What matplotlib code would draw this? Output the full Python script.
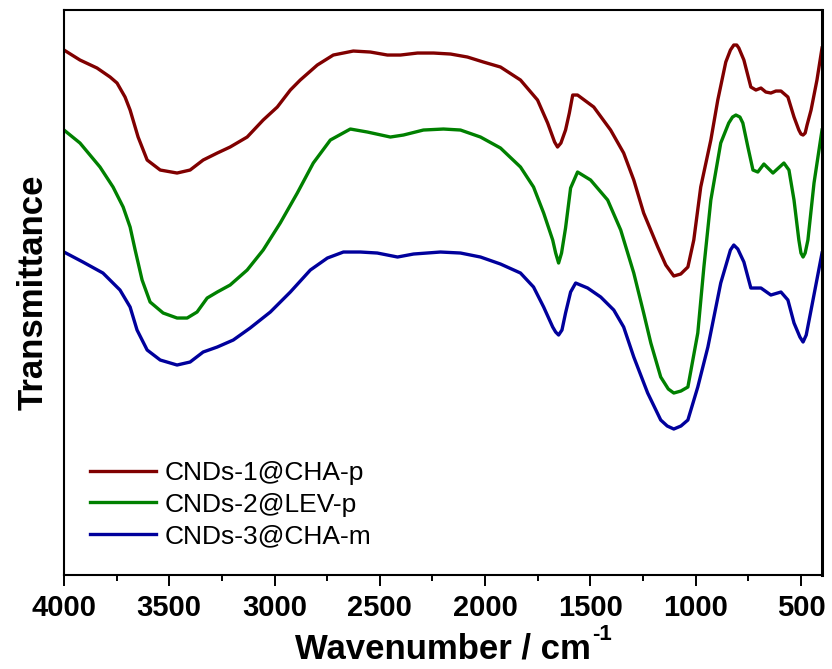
import matplotlib.pyplot as plt
from matplotlib.ticker import MultipleLocator

plt.rcParams['font.family'] = ['Liberation Sans', 'DejaVu Sans']

# wavenumber (cm-1) and transmittance (a.u.)
wn_1 = [4000, 3924, 3843, 3781, 3748, 3710, 3686, 3648, 3605, 3543, 3463, 3401, 3339, 3272,
        3211, 3130, 3054, 2987, 2925, 2878, 2797, 2721, 2626, 2545, 2464, 2402, 2321, 2245,
        2164, 2084, 2008, 1927, 1832, 1751, 1703, 1670, 1656, 1640, 1618, 1600, 1584, 1561,
        1484, 1404, 1342, 1294, 1247, 1180, 1142, 1104, 1071, 1037, 1009, 976, 928, 895, 857,
        835, 819, 805, 795, 771, 738, 714, 690, 667, 643, 619, 595, 562, 533, 510, 500, 490,
        480, 471, 452, 424, 400]
t_1 = [525, 515, 507, 498, 492, 478, 465, 438, 415, 405, 402, 405, 415, 422,
       428, 438, 455, 468, 485, 495, 510, 520, 524, 523, 520, 520, 522, 522,
       521, 518, 513, 508, 495, 475, 452, 433, 428, 432, 445, 462, 480, 480,
       468, 445, 422, 395, 362, 328, 310, 299, 301, 308, 335, 388, 435, 475, 513,
       525, 530, 530, 527, 515, 488, 485, 487, 483, 482, 484, 484, 478, 458, 445, 441, 440,
       442, 450, 465, 495, 527]

wn_2 = [4000, 3924, 3829, 3767, 3719, 3686, 3662, 3629, 3591, 3529, 3463, 3415, 3368, 3320,
        3272, 3211, 3130, 3054, 2973, 2892, 2816, 2735, 2640, 2559, 2450, 2388, 2293, 2198,
        2117, 2022, 1927, 1832, 1770, 1722, 1679, 1665, 1651, 1637, 1618, 1594, 1561, 1499,
        1418, 1356, 1294, 1247, 1213, 1166, 1130, 1104, 1070, 1037, 990, 961, 928, 881, 843,
        825, 809, 790, 776, 752, 728, 705, 676, 633, 581, 557, 533, 510, 500, 490, 480, 467,
        438, 400]
t_2 = [445, 432, 408, 388, 368, 348, 325, 295, 273, 262, 257, 257, 263, 277,
       283, 290, 305, 325, 352, 382, 412, 435, 446, 443, 438, 440, 445, 446,
       445, 438, 427, 408, 388, 362, 335, 322, 312, 322, 347, 387, 403, 395,
       375, 345, 302, 262, 232, 198, 186, 182, 184, 188, 242, 308, 375, 432, 452,
       458, 460, 458, 452, 428, 405, 403, 411, 402, 412, 405, 375, 335, 322, 318, 322, 335,
       392, 445]

wn_3 = [4000, 3910, 3815, 3734, 3686, 3653, 3605, 3543, 3463, 3401, 3339, 3272, 3196, 3116,
        3020, 2925, 2830, 2749, 2673, 2592, 2512, 2416, 2340, 2212, 2117, 2022, 1927, 1832,
        1770, 1722, 1679, 1665, 1651, 1635, 1618, 1594, 1570, 1513, 1451, 1389, 1342, 1294,
        1228, 1166, 1135, 1104, 1070, 1037, 990, 942, 881, 835, 819, 800, 771, 738, 690, 643,
        595, 562, 533, 505, 490, 475, 452, 400]
t_3 = [323, 313, 302, 285, 268, 245, 225, 215, 210, 213, 223, 228, 235, 247,
       263, 283, 305, 317, 323, 323, 322, 318, 321, 323, 322, 318, 311, 302,
       288, 268, 248, 243, 240, 245, 262, 283, 292, 287, 278, 265, 248, 218,
       182, 155, 149, 146, 149, 155, 188, 228, 292, 325, 330, 326, 313, 287, 287, 280,
       283, 275, 252, 238, 233, 240, 265, 322]

labels = ['CNDs-1@CHA-p', 'CNDs-2@LEV-p', 'CNDs-3@CHA-m']
colors = ['#800000', '#008000', '#00009c']

fig = plt.figure(figsize=(8.32, 6.69), dpi=100)
ax = fig.add_axes([0.0769, 0.1405, 0.9111, 0.8445])

for wn, t, lab, c in zip([wn_1, wn_2, wn_3], [t_1, t_2, t_3], labels, colors):
    ax.plot(wn, t, color=c, lw=2.4, label=lab, solid_joinstyle='round')

ax.set_xlim(4000, 400)
ax.set_ylim(0, 565)
ax.xaxis.set_major_locator(MultipleLocator(500))
ax.xaxis.set_minor_locator(MultipleLocator(250))
ax.set_yticks([])
ax.tick_params(axis='x', which='major', direction='out', length=8, width=1.4,
               labelsize=21, pad=6)
ax.tick_params(axis='x', which='minor', direction='out', length=4, width=1.4)
for lab in ax.get_xticklabels():
    lab.set_fontweight('bold')
for sp in ax.spines.values():
    sp.set_linewidth(1.5)
ax.spines['right'].set_linewidth(2.2)

xl = ax.set_xlabel('Wavenumber / cm', fontsize=25, fontweight='bold', labelpad=7)
ax.set_ylabel('Transmittance', fontsize=25, fontweight='bold', labelpad=10)

ax.legend(loc='lower left', frameon=False, fontsize=19, handlelength=2.5,
          handletextpad=0.3, labelspacing=0.3, borderaxespad=0.6,
          bbox_to_anchor=(0.0, 0.0))

# superscript -1 after the x label, as a small hyphen like the original
fig.canvas.draw()
bb = xl.get_window_extent()
fig.text((bb.x1 + 1) / fig.bbox.width, (bb.y0 + 25) / fig.bbox.height, '-1',
         fontsize=16, fontweight='bold', ha='left', va='baseline')

fig.savefig('out.png', dpi=100)
